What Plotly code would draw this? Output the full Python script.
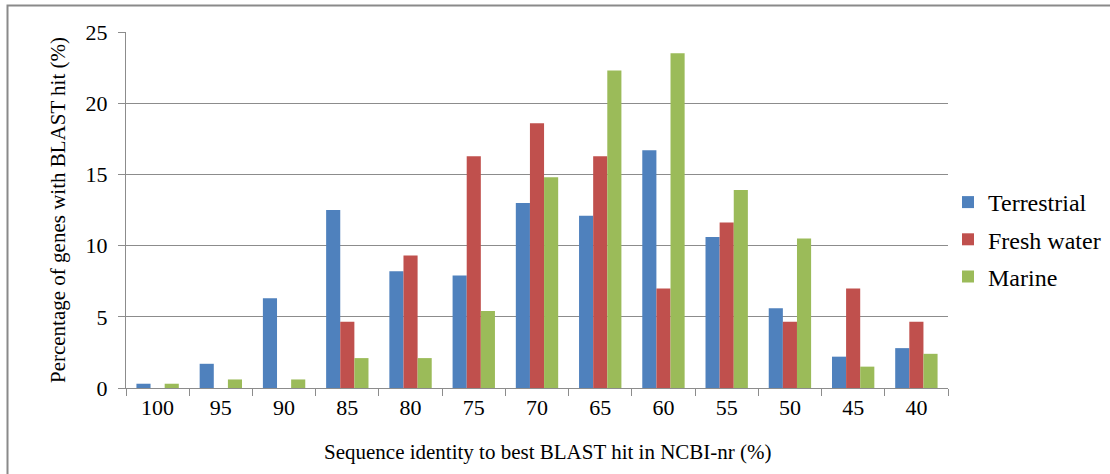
import plotly.graph_objects as go

# Sequence identity bins (%) to best BLAST hit in NCBI-nr
identity_bins = ["100", "95", "90", "85", "80", "75", "70", "65", "60", "55", "50", "45", "40"]

# Percentage of genes per bin for each environment
terrestrial = [0.3, 1.7, 6.3, 12.5, 8.2, 7.9, 13.0, 12.1, 16.7, 10.6, 5.6, 2.2, 2.8]
fresh_water = [0.0, 0.0, 0.0, 4.65, 9.3, 16.28, 18.6, 16.28, 6.98, 11.63, 4.65, 6.98, 4.65]
marine = [0.3, 0.6, 0.6, 2.1, 2.1, 5.4, 14.8, 22.3, 23.5, 13.9, 10.5, 1.5, 2.4]

series = [
    ("Terrestrial", terrestrial, "#4F81BD"),
    ("Fresh water", fresh_water, "#C0504D"),
    ("Marine", marine, "#9BBB59"),
]

W, H = 1110, 474
L, R, T, B = 126, 162, 32, 86
plot_w = W - L - R
plot_h = H - T - B

FONT = "Liberation Serif"
GRID = "#8C8C8C"

fig = go.Figure()
for name, vals, color in series:
    fig.add_trace(go.Bar(
        x=identity_bins, y=vals, name=name, legendgroup=name,
        marker=dict(color=color, line=dict(width=0)),
    ))

# frame around the chart (left and top edges fall inside the page)
def px_to_paper_x(px):
    return (px - L) / plot_w

def px_to_paper_y(py):
    return (H - B - py) / plot_h

frame = dict(type="rect", xref="paper", yref="paper",
             x0=px_to_paper_x(7.5), x1=px_to_paper_x(W + 20),
             y0=px_to_paper_y(H + 20), y1=px_to_paper_y(5.5),
             line=dict(color="#8A8A8A", width=2), fillcolor="rgba(0,0,0,0)",
             layer="above")

# x-axis title, centred on the chart area rather than the plot area
x_title = dict(text="Sequence identity to best BLAST hit in NCBI-nr (%)",
               xref="paper", yref="paper", x=px_to_paper_x(548), y=px_to_paper_y(452),
               xanchor="center", yanchor="middle", showarrow=False,
               font=dict(family=FONT, size=21, color="black"))

fig.update_layout(
    width=W, height=H,
    margin=dict(l=L, r=R, t=T, b=B, pad=0, autoexpand=False),
    paper_bgcolor="white", plot_bgcolor="white",
    font=dict(family=FONT, size=20, color="black"),
    barmode="group", bargap=0.33, bargroupgap=0,
    showlegend=True,
    legend=dict(x=px_to_paper_x(948), y=px_to_paper_y(180), xanchor="left", yanchor="top",
                traceorder="grouped", tracegroupgap=3, itemwidth=30,
                font=dict(family=FONT, size=24, color="black"),
                bgcolor="rgba(0,0,0,0)"),
    shapes=[frame],
    annotations=[x_title],
    xaxis=dict(
        type="category", tickson="boundaries", ticks="outside", ticklen=7,
        tickcolor=GRID, tickwidth=1, showline=True, linecolor=GRID, linewidth=1,
        showgrid=False, tickfont=dict(family=FONT, size=22),
    ),
    yaxis=dict(
        range=[0, 25], dtick=5, ticks="outside", ticklen=7, tickcolor=GRID,
        showline=True, linecolor=GRID, linewidth=1,
        showgrid=True, gridcolor=GRID, gridwidth=1, zeroline=False,
        tickfont=dict(family=FONT, size=22), ticklabelstandoff=6,
        title=dict(text="Percentage of genes with BLAST hit (%)",
                   font=dict(family=FONT, size=21), standoff=14),
    ),
)

fig.write_html("out.html")
